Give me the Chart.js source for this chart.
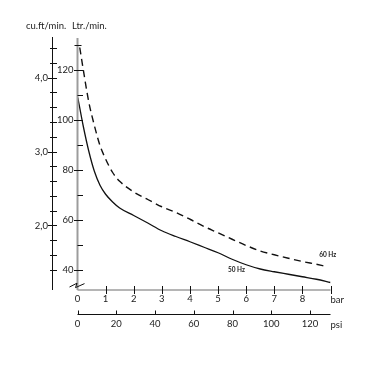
<!DOCTYPE html>
<html>
<head>
<meta charset="utf-8">
<script src="https://cdn.jsdelivr.net/npm/chart.js@4/dist/chart.umd.min.js"></script>
<style>
  html, body { margin: 0; padding: 0; background: #ffffff; }
  #wrap { width: 383px; height: 369px; }
</style>
</head>
<body>
<div id="wrap"><canvas id="c" width="383" height="369"></canvas></div>
<script>
// ---- data ----
const bar50 = [0.01, 0.2, 0.4, 0.6, 0.8, 1.0, 1.25, 1.5, 2.0, 2.5, 3.0, 3.5, 4.0, 4.5, 5.0, 5.5, 6.0, 6.5, 7.0, 7.5, 8.0, 8.5, 9.0];
const ltr50 = [109, 97.8, 87.6, 79.5, 73.9, 70.3, 67.2, 64.8, 61.8, 58.8, 55.7, 53.4, 51.3, 49.1, 46.9, 44.3, 42.1, 40.4, 39.3, 38.3, 37.3, 36.3, 35.0];
const bar60 = [0.08, 0.2, 0.4, 0.6, 0.8, 1.0, 1.25, 1.5, 2.0, 2.5, 3.0, 3.5, 4.0, 4.5, 5.0, 5.5, 6.0, 6.5, 7.0, 7.5, 8.0, 8.5, 8.83];
const ltr60 = [129, 120.5, 107.3, 97.8, 89.8, 84.4, 79.0, 75.5, 71.2, 68.2, 65.3, 63.0, 60.3, 57.4, 54.9, 52.3, 49.8, 47.6, 46.1, 44.7, 43.4, 42.3, 41.5];

const seriesNames = ['50 Hz', '60 Hz'];
const barTicks = [0, 1, 2, 3, 4, 5, 6, 7, 8, 9];
const barTickLabels = ['0', '1', '2', '3', '4', '5', '6', '7', '8', ''];
const psiTicks = [0, 20, 40, 60, 80, 100, 120];
const ltrTicks = [40, 50, 60, 70, 80, 90, 100, 110, 120, 130];
const ltrLabelled = [40, 60, 80, 100, 120];
const cfmTicks = [1.4, 1.6, 1.8, 2.0, 2.2, 2.4, 2.6, 2.8, 3.0, 3.2, 3.4, 3.6, 3.8, 4.0, 4.2, 4.4];
const cfmLabelled = [2.0, 3.0, 4.0];
const axisTitles = { cfm: 'cu.ft/min.', ltr: 'Ltr./min.', bar: 'bar', psi: 'psi' };

const FONT = 'Lato';
const TXT = '#1c1c1c';

const deco = {
  id: 'deco',
  afterDraw(chart) {
    const { ctx, chartArea: ca, scales } = chart;
    const x = scales.x, x2 = scales.x2, y = scales.y, yc = scales.yc;
    const seg = (a, b, c, d) => { ctx.beginPath(); ctx.moveTo(a, b); ctx.lineTo(c, d); ctx.stroke(); };
    ctx.save();

    // Ltr./min. axis (grey) with ticks
    const lx = ca.left;
    ctx.strokeStyle = '#9c9c9c'; ctx.lineWidth = 2;
    seg(lx, ca.top - 2, lx, ca.bottom);
    ctx.strokeStyle = '#111'; ctx.lineWidth = 1;
    ltrTicks.forEach(v => {
      const py = Math.round(y.getPixelForValue(v)) + 0.5;
      const major = ltrLabelled.includes(v);
      if (v === 130) seg(lx - 3, py, lx + 4, py);
      else seg(major ? lx - 3.5 : lx, py, lx + 5.5, py);
    });

    // cu.ft/min. axis (black)
    const cx = Math.round(yc.right) + 0.5;
    ctx.strokeStyle = '#111'; ctx.lineWidth = 1;
    seg(cx, ca.top - 3, cx, ca.bottom);
    cfmTicks.forEach(v => {
      const py = Math.round(yc.getPixelForValue(v)) + 0.5;
      const major = cfmLabelled.some(m => Math.abs(m - v) < 1e-6);
      seg(major ? cx - 4.5 : cx - 2.5, py, cx + 4.5, py);
    });

    // break symbol
    ctx.beginPath();
    ctx.moveTo(lx - 8, 287); ctx.lineTo(lx - 0.5, 283.2); ctx.lineTo(lx - 2, 287.6); ctx.lineTo(lx + 7, 283.6);
    ctx.stroke();

    // bar axis (grey) with crossing ticks
    const by = ca.bottom;
    ctx.strokeStyle = '#9c9c9c'; ctx.lineWidth = 1.5;
    seg(ca.left, by, ca.right, by);
    ctx.strokeStyle = '#111'; ctx.lineWidth = 1;
    barTicks.forEach(v => {
      if (v === 0) return;
      const px = Math.round(x.getPixelForValue(v)) + 0.5;
      seg(px, by - 4, px, by + 4);
    });

    // psi axis (black)
    const py2 = Math.round(x2.top) + 0.5;
    seg(x2.getPixelForValue(0), py2, x2.right, py2);
    psiTicks.forEach(v => {
      const px = Math.round(x2.getPixelForValue(v)) + 0.5;
      seg(px, py2 - 4, px, py2);
    });

    // texts
    ctx.fillStyle = TXT;
    ctx.textBaseline = 'middle';
    ctx.textAlign = 'left';
    ctx.font = '9.5px ' + FONT;
    ctx.fillText(axisTitles.cfm, 26, 26);
    ctx.fillText(axisTitles.ltr, 72, 26);
    ctx.fillText(axisTitles.bar, x.getPixelForValue(9), 300);
    ctx.fillText(axisTitles.psi, x2.right, 324.5);

    ctx.font = 'bold 6.5px ' + FONT;
    ctx.fillText(seriesNames[1], x.getPixelForValue(8.6), y.getPixelForValue(46));
    ctx.fillText(seriesNames[0], x.getPixelForValue(5.35), y.getPixelForValue(40));
    ctx.restore();
  }
};

const tickFont = { family: FONT, size: 9.5 };

new Chart(document.getElementById('c'), {
  type: 'line',
  data: {
    datasets: [
      {
        label: seriesNames[0],
        data: bar50.map((b, i) => ({ x: b, y: ltr50[i] })),
        borderColor: '#111', borderWidth: 1.3, pointRadius: 0,
        cubicInterpolationMode: 'monotone', fill: false,
        xAxisID: 'x', yAxisID: 'y'
      },
      {
        label: seriesNames[1],
        data: bar60.map((b, i) => ({ x: b, y: ltr60[i] })),
        borderColor: '#111', borderWidth: 1.4, borderDash: [7, 4.5], pointRadius: 0,
        cubicInterpolationMode: 'monotone', fill: false,
        xAxisID: 'x', yAxisID: 'y'
      }
    ]
  },
  options: {
    responsive: false,
    animation: false,
    devicePixelRatio: 1,
    layout: { padding: { top: 40, left: 0, right: 52.5, bottom: 35 } },
    plugins: { legend: { display: false }, tooltip: { enabled: false } },
    scales: {
      x: {
        type: 'linear', position: 'bottom', min: 0, max: 9, weight: 0,
        afterBuildTicks: s => { s.ticks = barTicks.map(v => ({ value: v })); },
        afterFit: s => { s.height = 24; },
        grid: { display: false, drawTicks: false }, border: { display: false },
        ticks: { autoSkip: false, maxRotation: 0, padding: 3.5, font: tickFont, color: TXT,
                 callback: (v, i) => barTickLabels[i] }
      },
      x2: {
        type: 'linear', position: 'bottom', min: 0, max: 130.53, weight: 1,
        afterBuildTicks: s => { s.ticks = psiTicks.map(v => ({ value: v })); },
        afterFit: s => { s.height = 20; },
        grid: { display: false, drawTicks: false }, border: { display: false },
        ticks: { autoSkip: false, maxRotation: 0, padding: 4, font: tickFont, color: TXT,
                 callback: v => String(v) }
      },
      y: {
        type: 'linear', position: 'left', min: 32, max: 132, weight: 0,
        afterBuildTicks: s => { s.ticks = ltrTicks.map(v => ({ value: v })); },
        afterFit: s => { s.width = 25.5; },
        grid: { display: false, drawTicks: false }, border: { display: false },
        ticks: { autoSkip: false, padding: 4, font: tickFont, color: TXT,
                 callback: v => ltrLabelled.includes(v) ? String(v) : '' }
      },
      yc: {
        type: 'linear', position: 'left', min: 1.127, max: 4.51, weight: 1,
        afterBuildTicks: s => { s.ticks = cfmTicks.map(v => ({ value: v })); },
        afterFit: s => { s.width = 52; },
        grid: { display: false, drawTicks: false }, border: { display: false },
        ticks: { autoSkip: false, padding: 4, font: tickFont, color: TXT,
                 callback: v => cfmLabelled.some(m => Math.abs(m - v) < 1e-6) ? v.toFixed(1).replace('.', ',') : '' }
      }
    }
  },
  plugins: [deco]
});
</script>
</body>
</html>
